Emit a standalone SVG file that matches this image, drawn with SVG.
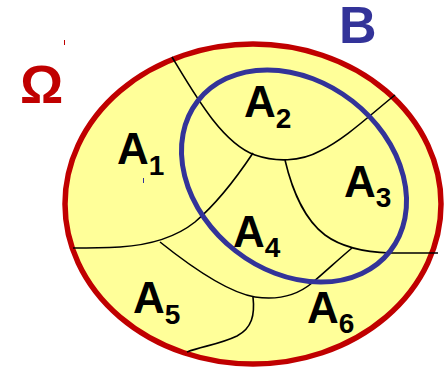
<svg xmlns="http://www.w3.org/2000/svg" width="444" height="368" viewBox="0 0 444 368">
<style>
.lbl{font-family:"Liberation Sans",Arial,sans-serif;font-weight:bold;fill:#000}
.big{font-size:44px}
.sub{font-size:28px}
.ln{fill:none;stroke:#000;stroke-width:1.6}
</style>
<rect width="444" height="368" fill="#fff"/>
<g id="omega">
<ellipse cx="253" cy="204" rx="188" ry="160" fill="#ffff99" stroke="#c00000" stroke-width="5.5"/>
</g>
<g id="connectors">
<path class="ln" d="M172,57 C195,95 222,143 255,155 C275,162 300,162 320,151 C345,139 370,115 395,95"/>
<path class="ln" d="M253,153 C235,180 215,205 195,222 C175,238 150,245 120,247 C100,248 85,248 73,248"/>
<path class="ln" d="M160,242 C185,262 225,292 255,297 C275,300 295,297 312,283 C325,272 340,258 352,248"/>
<path class="ln" d="M253,297 C255,315 252,328 237,336 C218,345 202,346 187,352"/>
<path class="ln" d="M285,160 C292,190 305,220 325,235 C340,246 360,252 390,253 L438,253"/>
</g>
<g id="B">
<ellipse cx="294" cy="176" rx="122" ry="95" transform="rotate(38 294 176)" fill="none" stroke="#333399" stroke-width="5"/>
</g>
<g id="labels">
<text x="20" y="103" font-family="Liberation Sans,Arial,sans-serif" font-weight="bold" font-size="54" fill="#c00000">Ω</text>
<text x="339" y="43" font-family="Liberation Sans,Arial,sans-serif" font-weight="bold" font-size="52" fill="#333399">B</text>
<text class="lbl" x="117" y="164"><tspan class="big">A</tspan><tspan class="sub" dy="11">1</tspan></text>
<text class="lbl" x="244" y="117"><tspan class="big">A</tspan><tspan class="sub" dy="11">2</tspan></text>
<text class="lbl" x="344" y="197"><tspan class="big">A</tspan><tspan class="sub" dy="10">3</tspan></text>
<text class="lbl" x="233" y="247"><tspan class="big">A</tspan><tspan class="sub" dy="10">4</tspan></text>
<text class="lbl" x="133" y="313"><tspan class="big">A</tspan><tspan class="sub" dy="11">5</tspan></text>
<text class="lbl" x="307" y="323"><tspan class="big">A</tspan><tspan class="sub" dy="10">6</tspan></text>
</g>
<g id="marks">
<line x1="64.5" y1="40" x2="64.5" y2="45" stroke="#c00000" stroke-width="1"/>
<line x1="143.5" y1="178" x2="143.5" y2="183" stroke="#333399" stroke-width="1"/>
</g>
</svg>
